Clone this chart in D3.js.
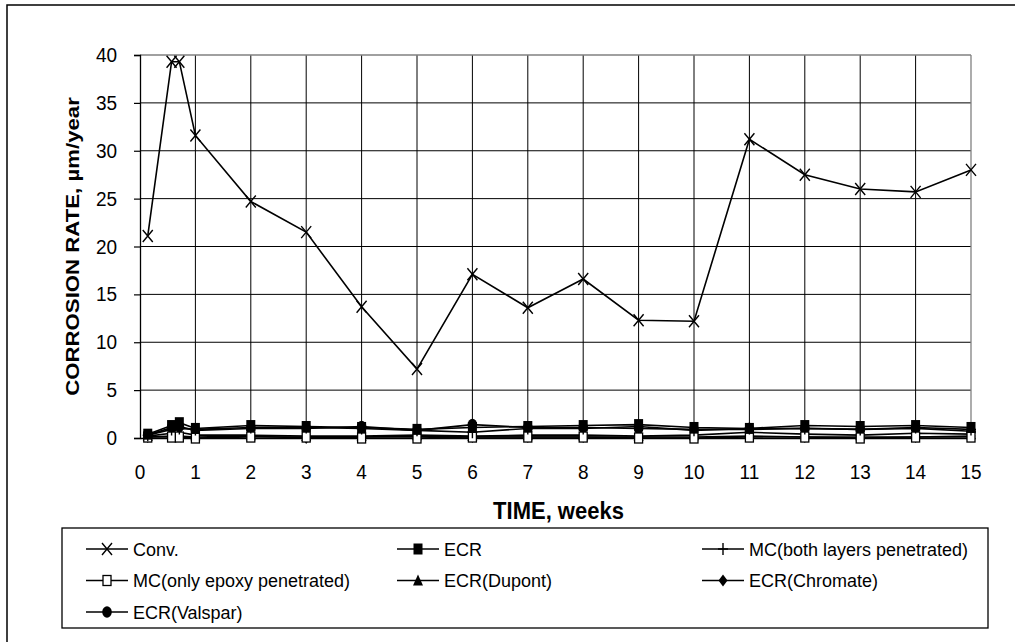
<!DOCTYPE html>
<html><head><meta charset="utf-8">
<script src="https://cdn.jsdelivr.net/npm/d3@7"></script>
<style>body{margin:0;background:#fff}svg{display:block}text{font-family:"Liberation Sans",Arial,sans-serif;fill:#000}</style>
</head><body>
<svg id="c" width="1015" height="642"></svg>
<script>
const weeks = [0.14, 0.57, 0.71, 1, 2, 3, 4, 5, 6, 7, 8, 9, 10, 11, 12, 13, 14, 15];
const conv     = [21.1, 39.3, 39.3, 31.6, 24.7, 21.5, 13.7, 7.2, 17.1, 13.6, 16.6, 12.3, 12.2, 31.2, 27.5, 26.0, 25.7, 28.0];
const ecr      = [0.4, 1.3, 1.6, 1.0, 1.3, 1.2, 1.1, 0.9, 1.1, 1.2, 1.3, 1.4, 1.1, 1.0, 1.3, 1.2, 1.3, 1.1];
const mcBoth   = [0.3, 0.9, 1.0, 0.9, 1.1, 1.1, 1.0, 0.8, 0.6, 1.0, 1.0, 1.2, 0.8, 1.0, 1.0, 0.9, 1.1, 0.9];
const mcEpoxy  = [0.1, 0.1, 0.1, 0.0, 0.1, 0.1, 0.0, 0.0, 0.1, 0.1, 0.1, 0.0, 0.0, 0.1, 0.1, 0.0, 0.1, 0.1];
const dupont   = [0.2, 0.5, 0.6, 0.3, 0.3, 0.2, 0.2, 0.3, 0.2, 0.3, 0.3, 0.2, 0.3, 0.6, 0.4, 0.3, 0.5, 0.4];
const chromate = [0.1, 0.2, 0.2, 0.1, 0.2, 0.0, 0.1, 0.2, 0.1, 0.1, 0.1, 0.1, 0.1, 0.2, 0.1, 0.1, 0.1, 0.2];
const valspar  = [0.3, 1.1, 1.2, 0.8, 1.0, 1.0, 1.2, 0.8, 1.4, 1.1, 1.1, 1.0, 0.9, 0.9, 1.0, 0.9, 1.0, 0.7];
const xTicks = d3.range(0, 16, 1);
const yTicks = [0, 5, 10, 15, 20, 25, 30, 35, 40];

const series = [
  {name: "Conv.", values: conv, marker: "x"},
  {name: "ECR", values: ecr, marker: "square"},
  {name: "MC(both layers penetrated)", values: mcBoth, marker: "plus"},
  {name: "MC(only epoxy penetrated)", values: mcEpoxy, marker: "osquare"},
  {name: "ECR(Dupont)", values: dupont, marker: "triangle"},
  {name: "ECR(Chromate)", values: chromate, marker: "diamond"},
  {name: "ECR(Valspar)", values: valspar, marker: "circle"}
];

const svg = d3.select("#c");
svg.append("rect").attr("x", 7).attr("y", 5).attr("width", 1020).attr("height", 650)
  .attr("fill", "none").attr("stroke", "#000").attr("stroke-width", 1.5);

const L = 140, R = 971, T = 55, B = 438;
const x = d3.scaleLinear().domain([0, 15]).range([L, R]);
const y = d3.scaleLinear().domain([0, 40]).range([B, T]);

function stext(px, py, str, size, anchor, weight, sy) {
  const gg = svg.append("g").attr("transform", `translate(${px},${py}) scale(1,${sy || 1.05})`);
  return gg.append("text").attr("text-anchor", anchor || "start").attr("font-size", size)
    .attr("font-weight", weight || "normal").text(str);
}

const g = svg.append("g");
g.selectAll(".hg").data(yTicks.filter(d => d > 0 && d < 40)).enter().append("line")
  .attr("x1", L).attr("x2", R).attr("y1", d => y(d)).attr("y2", d => y(d))
  .attr("stroke", "#000").attr("stroke-width", 1);
g.selectAll(".vg").data(xTicks.filter(d => d > 0 && d < 15)).enter().append("line")
  .attr("y1", T).attr("y2", B).attr("x1", d => x(d)).attr("x2", d => x(d))
  .attr("stroke", "#000").attr("stroke-width", 1);
g.append("line").attr("x1", L).attr("x2", R).attr("y1", T).attr("y2", T).attr("stroke", "#808080").attr("stroke-width", 1.3);
g.append("line").attr("x1", R).attr("x2", R).attr("y1", T).attr("y2", B).attr("stroke", "#808080").attr("stroke-width", 1.3);

const ya = svg.append("g").attr("transform", `translate(${L},0)`).call(d3.axisLeft(y).tickValues(yTicks).tickSize(6).tickFormat(""));
const xa = svg.append("g").attr("transform", `translate(0,${B})`).call(d3.axisBottom(x).tickValues(xTicks).tickSize(0).tickFormat(""));
[ya, xa].forEach(a => {
  a.select(".domain").attr("stroke", "#000").attr("stroke-width", 1.3);
  a.selectAll(".tick line").attr("stroke", "#000").attr("stroke-width", 1.2);
});
yTicks.forEach(t => stext(117, y(t) + 7, String(t), 19, "end"));
xTicks.forEach(t => stext(x(t), 479, String(t), 19, "middle"));

stext((L + R) / 2 + 3, 519, "TIME, weeks", 22, "middle", "bold", 1.05);
svg.append("text").attr("transform", `translate(79,${(T + B) / 2}) rotate(-90) scale(1.17,1)`)
  .attr("text-anchor", "middle").attr("font-size", 19).attr("font-weight", "bold").text("CORROSION RATE, µm/year");

function drawMarker(sel, type, cx, cy) {
  const sx = 5, sy = 6;
  if (type === "x") {
    sel.append("path").attr("d", `M${cx - sx},${cy - sy}L${cx + sx},${cy + sy}M${cx - sx},${cy + sy}L${cx + sx},${cy - sy}`)
      .attr("stroke", "#000").attr("stroke-width", 1.4).attr("fill", "none");
  } else if (type === "plus") {
    sel.append("path").attr("d", `M${cx - sx},${cy}L${cx + sx},${cy}M${cx},${cy - sy}L${cx},${cy + sy}`)
      .attr("stroke", "#000").attr("stroke-width", 1.4).attr("fill", "none");
  } else if (type === "square") {
    sel.append("rect").attr("x", cx - 4.5).attr("y", cy - 5.5).attr("width", 9).attr("height", 11).attr("fill", "#000");
  } else if (type === "osquare") {
    sel.append("rect").attr("x", cx - 4).attr("y", cy - 5).attr("width", 8).attr("height", 10)
      .attr("fill", "#fff").attr("stroke", "#000").attr("stroke-width", 1.3);
  } else if (type === "triangle") {
    sel.append("path").attr("d", `M${cx},${cy - 6}L${cx + 5},${cy + 5}L${cx - 5},${cy + 5}Z`).attr("fill", "#000");
  } else if (type === "diamond") {
    sel.append("path").attr("d", `M${cx},${cy - 6}L${cx + 4.5},${cy}L${cx},${cy + 6}L${cx - 4.5},${cy}Z`).attr("fill", "#000");
  } else if (type === "circle") {
    sel.append("ellipse").attr("cx", cx).attr("cy", cy).attr("rx", 4.8).attr("ry", 5.8).attr("fill", "#000");
  }
}

const line = d3.line().x(d => x(d[0])).y(d => y(d[1]));
const plot = svg.append("g");
series.slice().reverse().forEach(s => {
  const pts = weeks.map((w, i) => [w, s.values[i]]);
  plot.append("path").attr("d", line(pts)).attr("fill", "none").attr("stroke", "#000").attr("stroke-width", 1.6);
});
series.slice().reverse().forEach(s => {
  const mg = plot.append("g");
  weeks.forEach((w, i) => drawMarker(mg, s.marker, x(w), y(s.values[i])));
});

svg.append("rect").attr("x", 62).attr("y", 528).attr("width", 926).attr("height", 100)
  .attr("fill", "#fff").attr("stroke", "#000").attr("stroke-width", 1.3);
const colX = [86, 397, 702];
series.forEach((s, i) => {
  const cx = colX[i % 3], cy = 549 + Math.floor(i / 3) * 31.5;
  svg.append("line").attr("x1", cx).attr("x2", cx + 42).attr("y1", cy).attr("y2", cy).attr("stroke", "#000").attr("stroke-width", 1.6);
  drawMarker(svg, s.marker, cx + 21, cy);
  stext(cx + 47, cy + 6.5, s.name, 18, "start", "normal", 1.05);
});
</script>
</body></html>
